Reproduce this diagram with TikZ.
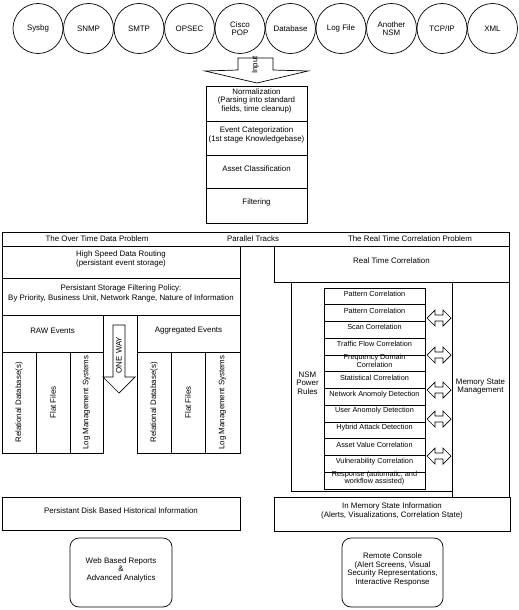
\documentclass[tikz,border=0pt]{standalone}
\usepackage{fontspec}
\setmainfont{Liberation Sans}
\usetikzlibrary{fit}
\begin{document}
\begin{tikzpicture}[x=1pt,y=-1pt,line width=0.7pt,
  every node/.style={font=\fontsize{7.9}{8.6}\selectfont,inner sep=0pt,align=center},
  src/.style={circle,draw,minimum size=50pt},
  cell/.style={draw,rectangle},
  rbox/.style={draw,rectangle,rounded corners=9pt},
  listfont/.style={font=\fontsize{7.3}{7.5}\selectfont},
  blockarrow/.style={draw,fill=white,line join=miter}]
\useasboundingbox (0,0) rectangle (519,610);
% sources
\foreach \t [count=\i from 0] in {Sysbg,SNMP,SMTP,OPSEC,{Cisco\\POP},Database,Log File,{Another\\NSM},TCP/IP,XML}
  \node[src] (s\i) at (38+50.5*\i,28.5) {\t};
% input arrow
\draw[blockarrow] (238,58) -- (273,58) -- (273,70) -- (308,71) -- (257,83) -- (205,71) -- (238,70) -- cycle;
\node[rotate=90] (input) at (255.5,65) {Input};
% processing stack
\node[cell,fit={(206,86) (307,121)}] (norm) {Normalization\\(Parsing into standard\\fields, time cleanup)};
\node[cell,fit={(206,121) (307,155)}] (cat) {Event Categorization\\(1st stage Knowledgebase)};
\node[cell,fit={(206,155) (307,188)}] (asset) {Asset Classification};
\node[cell,fit={(206,188) (307,223)}] (filt) {Filtering};
% top bar
\node[cell,fit={(2,232) (509,246)}] (bar) {};
\node (overtime) at (97,239) {The Over Time Data Problem};
\node (parallel) at (253,239) {Parallel Tracks};
\node (realprob) at (410,239) {The Real Time Correlation Problem};
% left column
\node[cell,fit={(2,246) (240,278)}] (hsdr) {High Speed Data Routing\\(persistant event storage)};
\node[cell,fit={(2,278) (240,315)}] (policy) {Persistant Storage Filtering Policy:\\[1pt]By Priority, Business Unit, Network Range, Nature of Information};
\node[cell,fit={(2,315) (103,352)}] (raw) {RAW Events};
\node[cell,fit={(137,315) (240,352)}] (agg) {Aggregated Events};
\node[cell,fit={(2,352) (36,453)}] (r1) {};
\node[cell,fit={(36,352) (70,453)}] (r2) {};
\node[cell,fit={(70,352) (103,453)}] (r3) {};
\node[cell,fit={(137,352) (171,453)}] (a1) {};
\node[cell,fit={(171,352) (205,453)}] (a2) {};
\node[cell,fit={(205,352) (240,453)}] (a3) {};
\foreach \c in {r,a}{
  \node[rotate=90] at (\c1.center) {Relational Database(s)};
  \node[rotate=90] at (\c2.center) {Flat Files};
  \node[rotate=90] at (\c3.center) {Log Management Systems};
}
% one way arrow
\draw[blockarrow] (113,325) -- (125,325) -- (125,377) -- (135,377) -- (119,393) -- (103,377) -- (113,377) -- cycle;
\node[rotate=90] (oneway) at (119,355) {ONE WAY};
\node[cell,fit={(2,497) (240,530)}] (disk) {Persistant Disk Based Historical Information};
\node[rbox,fit={(70,538) (172,607)}] (web) {Web Based Reports\\\&\\Advanced Analytics};
% right column
\node[cell,fit={(274,246) (509,282)}] (rtc) {Real Time Correlation};
\node[cell,fit={(452,282) (509,497)}] (mem) {Memory State\\Management};
\node[cell,fit={(291,282) (452,491)}] (nsmbox) {};
\node (nsm) at (307.5,383) {NSM\\Power\\Rules};
\foreach \t [count=\i from 0] in {Pattern Correlation,Pattern Correlation,Scan Correlation,Traffic Flow Correlation,{Frequency Domain\\Correlation},Statistical Correlation,Network Anomoly Detection,User Anomoly Detection,Hybrid Attack Detection,Asset Value Correlation,Vulnerability Correlation,{Response (automatic, and\\workflow assisted)}}
  \node[cell,fit={(324,288+16.75*\i) (425,288+16.75*\i+16.75)},listfont] (l\i) {\t};
\foreach \y in {318,355,390,419,456}
  \draw[blockarrow] (427,\y) -- (435,\y-8) -- (435,\y-3) -- (443,\y-3) -- (443,\y-8) -- (451,\y) -- (443,\y+8) -- (443,\y+3) -- (435,\y+3) -- (435,\y+8) -- cycle;
\node[cell,fit={(274,497) (510,531)}] (inmem) {In Memory State Information\\(Alerts, Visualizations, Correlation State)};
\node[rbox,fit={(342,538) (443,607)}] (remote) {Remote Console\\(Alert Screens, Visual\\Security Representations,\\Interactive Response};
\end{tikzpicture}
\end{document}
